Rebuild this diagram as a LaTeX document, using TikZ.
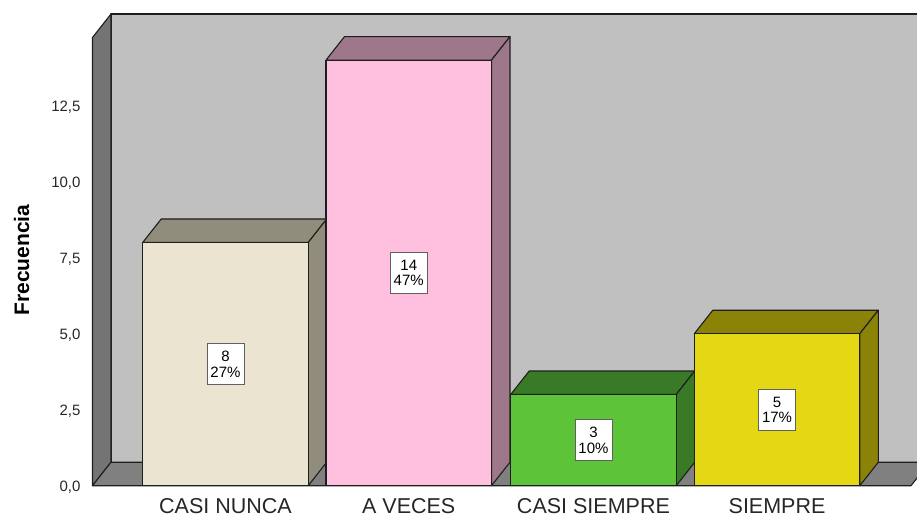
\documentclass[tikz,border=0pt]{standalone}
\usepackage{fontspec}
\setmainfont{Liberation Sans}
\definecolor{wallc}{RGB}{192,192,192}
\definecolor{sidewall}{RGB}{116,116,116}
\definecolor{floorc}{RGB}{128,128,128}
\definecolor{edgec}{RGB}{30,30,30}
\definecolor{fA}{RGB}{234,228,208}
\definecolor{sA}{RGB}{145,141,125}
\definecolor{fB}{RGB}{255,192,224}
\definecolor{sB}{RGB}{158,120,138}
\definecolor{fC}{RGB}{93,196,58}
\definecolor{sC}{RGB}{56,122,37}
\definecolor{fD}{RGB}{227,216,19}
\definecolor{sD}{RGB}{139,130,8}
\tikzset{
  edge/.style={draw=edgec,line width=1.1pt,line join=round},
  valbox/.style={draw=gray!75!black,fill=white,line width=0.9pt,minimum width=37pt,minimum height=41pt,inner sep=0pt,align=center,font=\fontsize{15}{15.5}\selectfont},
  ticklab/.style={anchor=base east,font=\fontsize{15}{18}\selectfont,text=black!85},
  catlab/.style={anchor=base,inner sep=0pt,font=\fontsize{21.5}{26}\selectfont,text=black!85}
}
\begin{document}
\begin{tikzpicture}[x=1pt,y=-1pt]
\useasboundingbox (0,0) rectangle (917,518);
\clip (0,0) rectangle (917,518);
% back wall
\fill[wallc] (111,14) rectangle (930,462.2);
\draw[edge] (930,14) -- (111,14) -- (111,462.2);
% left side wall
\filldraw[fill=sidewall,edge] (92.5,37.5) -- (111,14) -- (111,462.2) -- (92.5,485.7) -- cycle;
% floor
\filldraw[fill=floorc,edge] (92.5,485.7) -- (111,462.2) -- (929.5,462.2) -- (911,485.7) -- cycle;
% bars
\foreach \x/\v/\fc/\sc/\n/\lab/\cat in {
  142.7/8/fA/sA/a/{8\\27\%}/CASI NUNCA,
  326/14/fB/sB/b/{14\\47\%}/A VECES,
  510.7/3/fC/sC/c/{3\\10\%}/CASI SIEMPRE,
  694.3/5/fD/sD/d/{5\\17\%}/SIEMPRE}{
  \pgfmathsetmacro\xb{\x+165.5}
  \pgfmathsetmacro\yt{485.7-\v*30.4}
  % top face
  \filldraw[fill=\sc,edge] (\x,\yt) -- (\x+18.5,\yt-23.5) -- (\xb+18.5,\yt-23.5) -- (\xb,\yt) -- cycle;
  % side face
  \filldraw[fill=\sc,edge] (\xb,\yt) -- (\xb+18.5,\yt-23.5) -- (\xb+18.5,462.2) -- (\xb,485.7) -- cycle;
  % front face
  \filldraw[fill=\fc,edge] (\x,485.7) rectangle (\xb,\yt);
  \node[valbox] (lbl\n) at ({\x+82.75},{485.7-\v*15.2}) {\lab};
  \node[catlab] (cat\n) at ({\x+82.75},513.5) {\cat};
}
% tick labels
\foreach \t/\s [count=\i] in {0/{0,0},2.5/{2,5},5/{5,0},7.5/{7,5},10/{10,0},12.5/{12,5}}{
  \node[ticklab] (tick\i) at (84,{485.7-\t*30.4+5.4}) {\s};
}
% axis title
\node[rotate=90,font=\fontsize{21}{24}\selectfont\bfseries] (ytitle) at (21.5,260) {Frecuencia};
\end{tikzpicture}
\end{document}
